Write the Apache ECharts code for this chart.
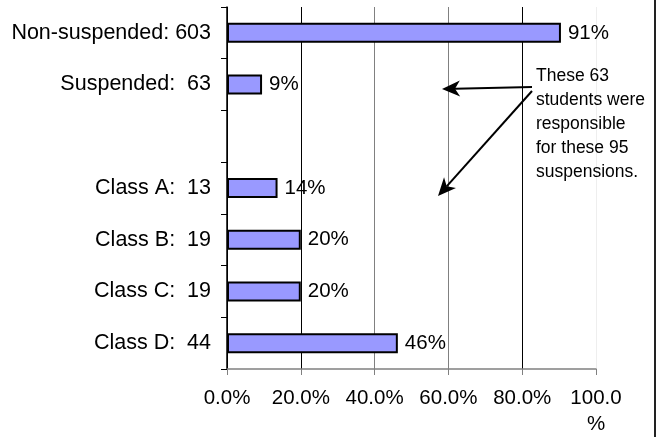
<!DOCTYPE html>
<html>
<head>
<meta charset="utf-8">
<script src="https://cdn.jsdelivr.net/npm/echarts@6/dist/echarts.min.js"></script>
<style>
html,body{margin:0;padding:0;background:#fff;}
#chart{width:666px;height:437px;}
</style>
</head>
<body>
<div id="chart"></div>
<script>
// Data
var categories = ['Non-suspended: 603', 'Suspended:  63', '', 'Class A:  13', 'Class B:  19', 'Class C:  19', 'Class D:  44'];
var percentValues = [90.5, 9.5, null, 13.7, 20.0, 20.0, 46.3];
var barLabels = ['91%', '9%', '', '14%', '20%', '20%', '46%'];
var xTicks = [0, 20, 40, 60, 80, 100];
var noteText = 'These 63\nstudents were\nresponsible\nfor these 95\nsuspensions.';

var FONT = '"Liberation Sans", Arial, sans-serif';

function arrow(sx, sy, tx, ty) {
  var dx = tx - sx, dy = ty - sy;
  var L = Math.sqrt(dx * dx + dy * dy);
  dx /= L; dy /= L;
  var hl = 18, hw = 8, nl = 13;
  var bx = tx - dx * hl, by = ty - dy * hl;
  var px = -dy, py = dx;
  var nx = tx - dx * nl, ny = ty - dy * nl;
  return [
    { type: 'line', shape: { x1: sx, y1: sy, x2: nx, y2: ny }, style: { stroke: '#000', lineWidth: 2 }, z: 100 },
    { type: 'polygon', shape: { points: [[tx, ty], [bx + px * hw, by + py * hw], [nx, ny], [bx - px * hw, by - py * hw]] }, style: { fill: '#000' }, z: 100 }
  ];
}

var chart = echarts.init(document.getElementById('chart'), null, { renderer: 'canvas' });
var graphics = [
  { type: 'line', shape: { x1: 655, y1: 0, x2: 655, y2: 437 }, style: { stroke: '#222', lineWidth: 2 }, z: 100 },
  { type: 'text', left: 536, top: 64, style: { text: noteText, font: '17.5px ' + FONT, fill: '#000', lineHeight: 24 }, z: 100 }
].concat(arrow(532, 87, 442, 89)).concat(arrow(532, 91, 438, 196));

chart.setOption({
  backgroundColor: '#fff',
  animation: false,
  grid: { left: 227, right: 70, top: 7, bottom: 67, containLabel: false },
  xAxis: {
    type: 'value',
    min: xTicks[0],
    max: xTicks[xTicks.length - 1],
    interval: 20,
    axisLine: { show: true, lineStyle: { color: '#808080', width: 1.5 } },
    axisTick: { show: true, length: 6, lineStyle: { color: '#808080' } },
    axisLabel: {
      margin: 16,
      fontSize: 20.5,
      fontFamily: FONT,
      color: '#000',
      lineHeight: 26,
      formatter: function (v) { return v === 100 ? '100.0\n%' : v.toFixed(1) + '%'; }
    },
    splitLine: { show: true, lineStyle: { color: ['#000', '#000', '#808080', '#808080', '#000', '#eeeeee'], width: 1 } }
  },
  yAxis: {
    type: 'category',
    inverse: true,
    data: categories,
    axisLine: { show: true, lineStyle: { color: '#000', width: 1.5 } },
    axisTick: { show: true, length: 6, lineStyle: { color: '#000' } },
    axisLabel: { margin: 16, fontSize: 21.5, fontFamily: FONT, color: '#000' },
    splitLine: { show: false }
  },
  series: [{
    type: 'bar',
    data: percentValues,
    barWidth: 20,
    itemStyle: { color: '#9999FF', borderColor: '#000', borderWidth: 2 },
    label: {
      show: true,
      position: 'right',
      distance: 7,
      fontSize: 20.5,
      fontFamily: FONT,
      color: '#000',
      formatter: function (p) { return barLabels[p.dataIndex]; }
    }
  }],
  graphic: graphics
});
</script>
</body>
</html>
